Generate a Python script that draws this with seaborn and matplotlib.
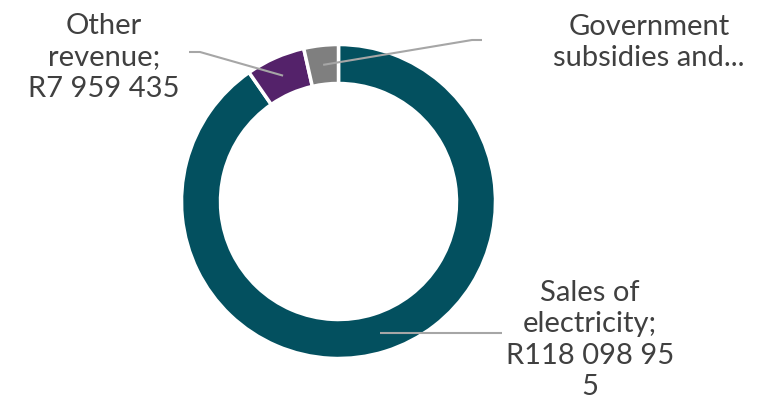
import numpy as np
import matplotlib
matplotlib.use("Agg")
import matplotlib.pyplot as plt
import seaborn as sns

# Revenue split (rand)
categories = ["Sales of electricity", "Other revenue", "Government subsidies and grants"]
values = [118098955, 7959435, 4650000]
label_lines = [
    "Sales of\nelectricity;\nR118 098 95\n5",
    "Other\nrevenue;\nR7 959 435",
    "Government\nsubsidies and...",
]
colors = ["#03505F", "#54226A", "#7F7F7F"]

sns.set_theme(style="white")
plt.rcParams["font.family"] = ["Lato", "DejaVu Sans"]

W, H = 777, 400
fig = plt.figure(figsize=(W / 100, H / 100), dpi=100)
ax = fig.add_axes([0, 0, 1, 1])

cx, cy = 338.5, H - 201.5
r_out, ring = 157, 39

wedges, _ = ax.pie(
    values,
    colors=colors,
    startangle=90,
    counterclock=False,
    center=(cx, cy),
    radius=r_out,
    wedgeprops=dict(width=ring, edgecolor="white", linewidth=2.5),
)
ax.set_xlim(0, W)
ax.set_ylim(0, H)
ax.set_aspect("equal")
ax.axis("off")


def mid_point(w):
    ang = np.deg2rad((w.theta1 + w.theta2) / 2)
    rm = r_out - ring / 2
    return cx + rm * np.cos(ang), cy + rm * np.sin(ang)


line_kw = dict(color="#A6A6A6", lw=1.5, solid_capstyle="butt", zorder=3)
text_kw = dict(color="#404040", fontsize=21, ha="center", va="baseline",
               multialignment="center", linespacing=1.26)

# Sales of electricity (anchored at last line baseline)
px, py = mid_point(wedges[0])
ax.plot([px, 502], [py, py], **line_kw)
ax.text(590, H - 395, label_lines[0], **text_kw)

# Other revenue
px, py = mid_point(wedges[1])
ax.plot([px, 200, 189], [py, H - 52, H - 52], **line_kw)
ax.text(104, H - 97, label_lines[1], **text_kw)

# Government subsidies
px, py = mid_point(wedges[2])
ax.plot([px, 472, 482], [py, H - 40, H - 40], **line_kw)
ax.text(649, H - 66, label_lines[2], **text_kw)

fig.savefig("out.png", dpi=100, facecolor="white")
